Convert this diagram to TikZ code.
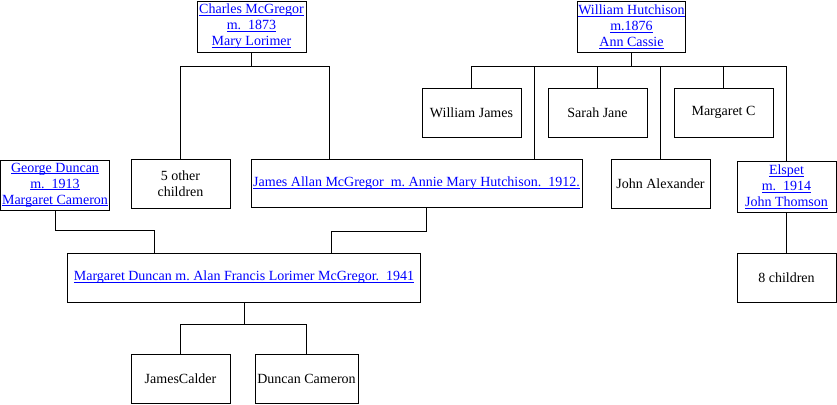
\documentclass[tikz,border=0pt]{standalone}
\usepackage{fontspec}
\setmainfont{Liberation Serif}
\usepackage{xcolor}
\definecolor{linkblue}{RGB}{0,0,255}
\newcommand{\lnk}[1]{{\color{linkblue}\setbox0\hbox{#1}\rlap{\rule[-2bp]{\wd0}{0.8bp}}\box0}}

\begin{document}
\begin{tikzpicture}[x=1bp,y=-1bp,every node/.style={font=\fontsize{14bp}{16bp}\selectfont},
  box/.style={draw,line width=1bp,minimum width=99bp,minimum height=49bp,inner sep=1bp,align=center},
  tie/.style={line width=1bp}]
\useasboundingbox (0,0) rectangle (837,404);
% top couples
\node[box,minimum width=109bp,minimum height=51bp] (charles) at (251.5,26.5) {\lnk{Charles McGregor}\\\lnk{m.\ \ 1873}\\\lnk{Mary Lorimer}};
\node[box,minimum width=107bp,minimum height=51bp] (william) at (631.5,26.5) {\lnk{William Hutchison}\\\lnk{m.1876}\\\lnk{Ann Cassie}};
% Hutchison children, first row
\node[box] (wjames) at (471.5,112.5) {William James};
\node[box] (sarah) at (597.5,112.5) {Sarah Jane};
\node[box] (margc) at (723.5,112.5) {Margaret C};
% second row
\node[box,minimum width=109bp,minimum height=50bp] (george) at (55,185) {\lnk{George Duncan}\\\lnk{m.\ \ 1913}\\\lnk{Margaret Cameron}};
\node[box] (other) at (180.5,183.5) {5 other\\children};
\node[box,minimum width=331bp,minimum height=48bp] (jallan) at (416.5,183) {\lnk{James Allan McGregor\ \ m.\ Annie Mary Hutchison.\ \ 1912.}};
\node[box] (jalex) at (660.5,183.5) {John Alexander};
\node[box,minimum height=51bp] (elspet) at (786.5,186.5) {\lnk{Elspet}\\\lnk{m.\ \ 1914}\\\lnk{John Thomson}};
% third row
\node[box,minimum width=352bp] (margaret) at (244,277.5) {\lnk{Margaret Duncan m.\ Alan Francis Lorimer McGregor.\ \ 1941}};
\node[box] (eight) at (786.5,277.5) {8 children};
% grandchildren
\node[box] (jcalder) at (180.5,378.5) {JamesCalder};
\node[box,minimum width=103bp] (dcameron) at (306.5,378.5) {Duncan Cameron};
% lines
\draw[tie] (charles.south) -- ++(0,14) coordinate (cbar);
\draw[tie] (other.north) |- (cbar) -| ([xshift=79bp]jallan.north west);
\draw[tie] (william.south) -- ++(0,14) coordinate (wbar);
\draw[tie] (wjames.north) |- (wbar) -| (elspet.north);
\foreach \n in {sarah,margc,jalex} \draw[tie] (\n.north) -- (\n.north |- wbar);
\draw[tie] ([xshift=284bp]jallan.north west) -- ([xshift=284bp]jallan.north west |- wbar);
\draw[tie] (george.south) -- ++(0,20) -| ([xshift=87bp]margaret.north west);
\draw[tie] ([xshift=176bp]jallan.south west) -- ++(0,24) -| ([xshift=264bp]margaret.north west);
\draw[tie] (elspet.south) -- (eight.north);
\draw[tie] (margaret.south) -- ++(0,22) coordinate (mbar);
\draw[tie] (jcalder.north) |- (mbar) -| (dcameron.north);
\end{tikzpicture}
\end{document}
